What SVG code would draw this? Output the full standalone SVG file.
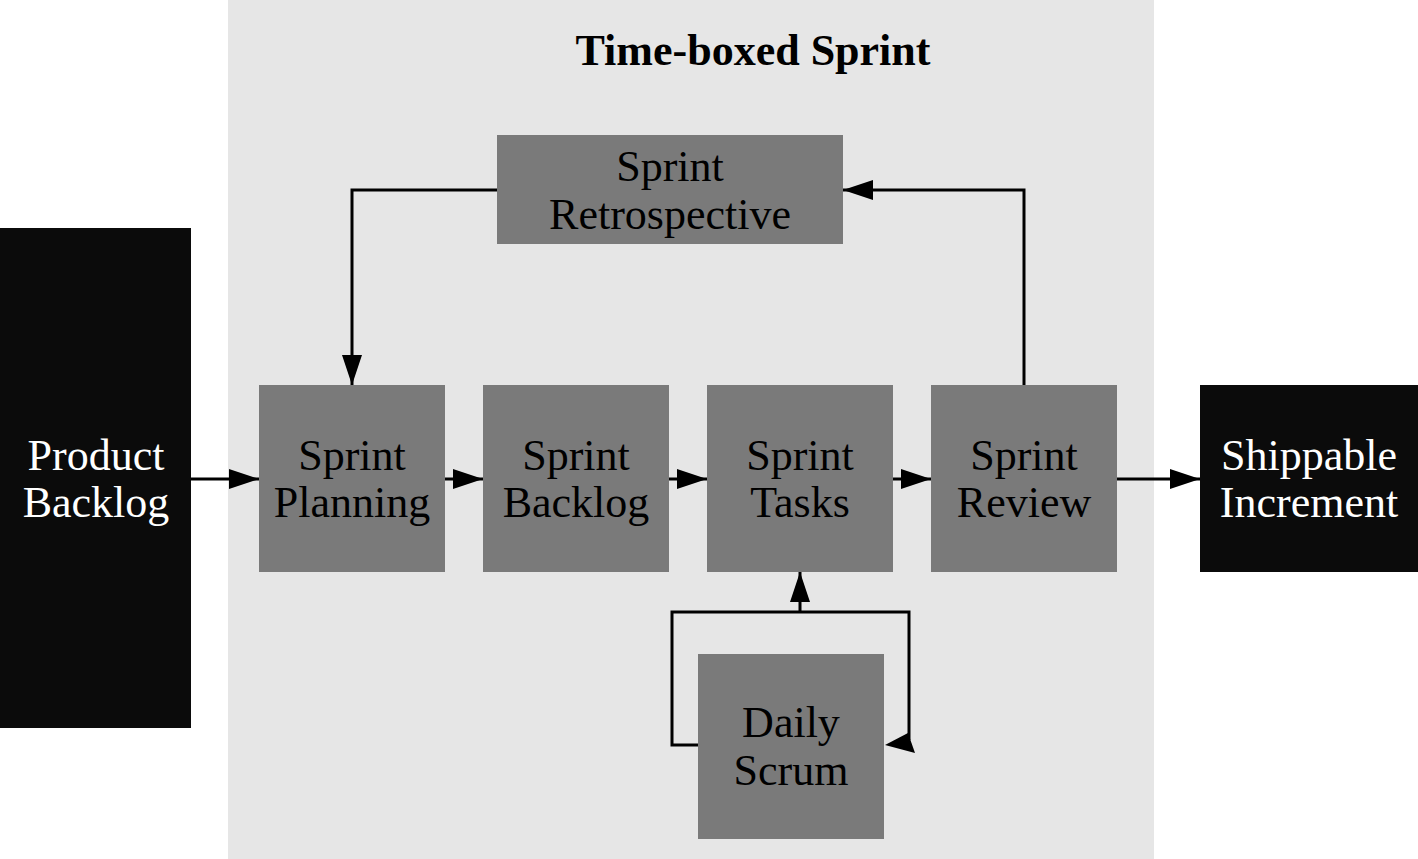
<svg xmlns="http://www.w3.org/2000/svg" width="1418" height="859" viewBox="0 0 1418 859">
<defs>
<style>
.box{fill:#7a7a7a}
.dark{fill:#0b0b0b}
.t{font-family:"Liberation Serif","Times New Roman",serif;font-size:44px;fill:#000;text-anchor:middle}
.w{fill:#fff}
.ln{fill:none;stroke:#000;stroke-width:3}
.ah{fill:#000}
</style>
<marker id="arr" viewBox="0 0 30 20" refX="30" refY="10" markerWidth="30" markerHeight="20" markerUnits="userSpaceOnUse" orient="auto">
<path d="M0,0 L30,10 L0,20 Z" fill="#000"/>
</marker>
</defs>
<rect width="1418" height="859" fill="#fff"/>
<rect id="sprint-panel" x="228" y="0" width="926" height="859" fill="#e6e6e6"/>
<text x="753" y="65" class="t" style="font-weight:bold">Time-boxed Sprint</text>

<g id="connectors">
<path class="ln" d="M191,479 H259" marker-end="url(#arr)"/>
<path class="ln" d="M445,479 H483" marker-end="url(#arr)"/>
<path class="ln" d="M669,479 H707" marker-end="url(#arr)"/>
<path class="ln" d="M893,479 H931" marker-end="url(#arr)"/>
<path class="ln" d="M1117,479 H1200" marker-end="url(#arr)"/>
<path class="ln" d="M1024,385 V190 H843" marker-end="url(#arr)"/>
<path class="ln" d="M497,190 H352 V385" marker-end="url(#arr)"/>
<path class="ln" d="M800,612 V572" marker-end="url(#arr)"/>
<path class="ln" d="M698,745 H672 V612 H909 V740"/>
<polygon class="ah" points="885,745 908,733 915,753"/>
</g>

<g id="product-backlog">
<rect class="dark" x="0" y="228" width="191" height="500"/>
<text class="t w" x="96" y="470">Product</text>
<text class="t w" x="96" y="517">Backlog</text>
</g>
<g id="sprint-retrospective">
<rect class="box" x="497" y="135" width="346" height="109"/>
<text class="t" x="670" y="181">Sprint</text>
<text class="t" x="670" y="229">Retrospective</text>
</g>
<g id="sprint-planning">
<rect class="box" x="259" y="385" width="186" height="187"/>
<text class="t" x="352" y="470">Sprint</text>
<text class="t" x="352" y="517">Planning</text>
</g>
<g id="sprint-backlog">
<rect class="box" x="483" y="385" width="186" height="187"/>
<text class="t" x="576" y="470">Sprint</text>
<text class="t" x="576" y="517">Backlog</text>
</g>
<g id="sprint-tasks">
<rect class="box" x="707" y="385" width="186" height="187"/>
<text class="t" x="800" y="470">Sprint</text>
<text class="t" x="800" y="517">Tasks</text>
</g>
<g id="sprint-review">
<rect class="box" x="931" y="385" width="186" height="187"/>
<text class="t" x="1024" y="470">Sprint</text>
<text class="t" x="1024" y="517">Review</text>
</g>
<g id="shippable-increment">
<rect class="dark" x="1200" y="385" width="218" height="187"/>
<text class="t w" x="1309" y="470">Shippable</text>
<text class="t w" x="1309" y="517">Increment</text>
</g>
<g id="daily-scrum">
<rect class="box" x="698" y="654" width="186" height="185"/>
<text class="t" x="791" y="737">Daily</text>
<text class="t" x="791" y="785">Scrum</text>
</g>
</svg>
